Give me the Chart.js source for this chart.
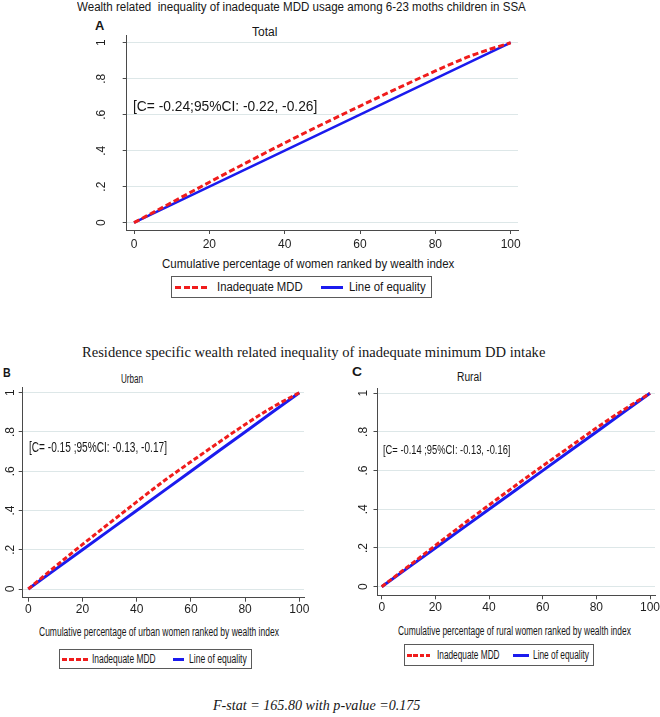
<!DOCTYPE html>
<html>
<head>
<meta charset="utf-8">
<script src="https://cdn.jsdelivr.net/npm/chart.js@4.4.1/dist/chart.umd.min.js"></script>
<style>
  body { margin: 0; background: #fff; }
  #wrap { position: relative; width: 660px; height: 717px; overflow: hidden; background: #fff; }
  canvas { position: absolute; }
  .t { position: absolute; white-space: pre; color: #161616; transform-origin: 0 50%; }
  .box { position: absolute; border: 1px solid #5a5a5a; box-sizing: border-box; }
  .smp { position: absolute; height: 3px; }
</style>
</head>
<body>
<div id="wrap"></div>
<script>
'use strict';

// concentration curves (cumulative share of inadequate MDD)
var pctWomen = [0, 10, 20, 30, 40, 50, 60, 70, 80, 90, 100];
var equalityLine = [0, 0.1, 0.2, 0.3, 0.4, 0.5, 0.6, 0.7, 0.8, 0.9, 1];
var totalMDD = [0, 0.112, 0.225, 0.335, 0.443, 0.547, 0.648, 0.747, 0.843, 0.932, 1];
var urbanMDD = [0, 0.115, 0.227, 0.336, 0.444, 0.55, 0.648, 0.744, 0.838, 0.925, 1];
var ruralMDD = [0, 0.106, 0.213, 0.319, 0.422, 0.524, 0.624, 0.722, 0.82, 0.913, 1];

var xTicks = [0, 20, 40, 60, 80, 100];
var yTicks = [0, 0.2, 0.4, 0.6, 0.8, 1];
var yTickLabels = ['0', '.2', '.4', '.6', '.8', '1'];
var seriesNames = ['Inadequate MDD', 'Line of equality'];

var wrap = document.getElementById('wrap');
var SANS = '"Liberation Sans", Arial, sans-serif';
var NARROW = '"Liberation Sans Narrow", "Liberation Sans", Arial, sans-serif';
var SERIF = '"Liberation Serif", "Times New Roman", serif';
var RED = '#f01c1c';
var BLUE = '#1b1bee';
var AXIS = '#4a4a4a';
var GRID = '#dde7e8';

var measureCtx = document.createElement('canvas').getContext('2d');

// text stretched between x0 and x1, centred on cy
function putText(txt, x0, x1, cy, size, family, extra) {
  var font = (extra || '') + ' ' + size + 'px ' + family;
  measureCtx.font = font;
  var w = measureCtx.measureText(txt).width;
  var el = document.createElement('div');
  el.className = 't';
  el.textContent = txt;
  el.style.font = font;
  el.style.lineHeight = size + 'px';
  el.style.left = x0 + 'px';
  el.style.top = (cy - size / 2) + 'px';
  el.style.transform = 'scaleX(' + ((x1 - x0) / w).toFixed(3) + ')';
  wrap.appendChild(el);
}

function legendBox(x0, x1, y0, y1) {
  var el = document.createElement('div');
  el.className = 'box';
  el.style.left = x0 + 'px';
  el.style.top = y0 + 'px';
  el.style.width = (x1 - x0) + 'px';
  el.style.height = (y1 - y0) + 'px';
  wrap.appendChild(el);
}

function sample(x0, x1, cy, color, dash) {
  var el = document.createElement('div');
  el.className = 'smp';
  el.style.left = x0 + 'px';
  el.style.width = (x1 - x0) + 'px';
  el.style.top = (cy - 1.5) + 'px';
  if (dash) {
    el.style.background = 'repeating-linear-gradient(to right,' + color + ' 0 ' + dash[0] + 'px, transparent ' +
      dash[0] + 'px ' + (dash[0] + dash[1]) + 'px)';
  } else {
    el.style.background = color;
  }
  wrap.appendChild(el);
}

// one Stata-style panel: p.area is the plot region in page pixels
function makePanel(p) {
  var left = Math.floor(p.area.l - 40);
  var top = Math.floor(p.area.t - 8);
  var right = Math.ceil(p.area.r + 10);
  var bottom = Math.ceil(p.area.b + 26);
  var canvas = document.createElement('canvas');
  canvas.width = right - left;
  canvas.height = bottom - top;
  canvas.style.left = left + 'px';
  canvas.style.top = top + 'px';
  wrap.appendChild(canvas);

  var yW = p.area.l - left;
  var xH = bottom - p.area.b;

  new Chart(canvas, {
    type: 'line',
    data: {
      datasets: [{
        label: seriesNames[0],
        data: pctWomen.map(function(x, i) { return {x: x, y: p.curve[i]}; }),
        borderColor: RED,
        borderWidth: p.lw,
        borderDash: p.dash,
        pointRadius: 0,
        cubicInterpolationMode: 'monotone',
        fill: false
      }, {
        label: seriesNames[1],
        data: pctWomen.map(function(x, i) { return {x: x, y: equalityLine[i]}; }),
        borderColor: BLUE,
        borderWidth: p.blw,
        pointRadius: 0,
        fill: false
      }]
    },
    options: {
      responsive: false,
      animation: false,
      events: [],
      layout: {padding: {left: 0, top: p.area.t - top, right: right - p.area.r, bottom: 0}},
      plugins: {legend: {display: false}, tooltip: {enabled: false}},
      scales: {
        x: {
          type: 'linear',
          min: p.xr[0],
          max: p.xr[1],
          afterBuildTicks: function(s) { s.ticks = xTicks.map(function(v) { return {value: v}; }); },
          afterFit: function(s) { s.height = xH; s.paddingLeft = 0; s.paddingRight = 0; },
          grid: {drawOnChartArea: false, drawTicks: true, tickLength: 4, tickColor: AXIS},
          border: {color: AXIS, width: 1},
          ticks: {color: '#1e1e1e', font: {family: p.font, size: 12}, padding: p.xPad, maxRotation: 0, autoSkip: false}
        },
        y: {
          type: 'linear',
          min: p.yr[0],
          max: p.yr[1],
          afterBuildTicks: function(s) { s.ticks = yTicks.map(function(v) { return {value: v}; }); },
          afterFit: function(s) { s.width = yW; s.paddingTop = 0; s.paddingBottom = 0; },
          grid: {color: GRID, lineWidth: 1, drawTicks: true, tickLength: 4, tickColor: AXIS},
          border: {color: AXIS, width: 1},
          ticks: {
            color: '#1e1e1e',
            font: {family: p.font, size: 12},
            callback: function(v, i) { return yTickLabels[i]; },
            minRotation: 90,
            maxRotation: 90,
            crossAlign: 'center',
            padding: p.yPad,
            autoSkip: false
          }
        }
      }
    }
  });
}

// ---- panel A
putText('Wealth related  inequality of inadequate MDD usage among 6-23 moths children in SSA', 77.3, 526, 7, 12, SANS);
putText('A', 94.7, 104, 25.7, 13, SANS, 'bold');
putText('Total', 252.3, 277.7, 32.3, 12, SANS);
makePanel({
  area: {l: 126.7, t: 35, r: 518, b: 230},
  xr: [-1.94, 101.94], yr: [-0.0406, 1.043],
  curve: totalMDD, lw: 3, dash: [6, 3], blw: 2.5,
  font: SANS, xPad: 3, yPad: 16
});
putText('[C= -0.24;95%CI: -0.22, -0.26]', 132.7, 317, 106, 14, SANS);
putText('Cumulative percentage of women ranked by wealth index', 161.7, 454, 264.3, 12, SANS);
legendBox(170.7, 432.3, 276, 297.7);
sample(175, 208.3, 287.3, RED, [6, 2.5]);
putText(seriesNames[0], 216.7, 302.3, 287.3, 12, SANS);
sample(321, 342.7, 287.3, BLUE);
putText(seriesNames[1], 349, 425.7, 287.3, 12, SANS);

// ---- middle title
putText('Residence specific wealth related inequality of inadequate minimum DD intake', 81.7, 545, 353.3, 14, SERIF);

// ---- panel B
putText('B', 3.3, 11, 372.3, 13, SANS, 'bold');
putText('Urban', 120.7, 142.7, 379.3, 12, SANS);
makePanel({
  area: {l: 22.7, t: 387, r: 304, b: 597.7},
  xr: [-2.07, 101.73], yr: [-0.0443, 1.029],
  curve: urbanMDD, lw: 3, dash: [5, 2.5], blw: 3,
  font: NARROW, xPad: 1.2, yPad: 2.7
});
putText('[C= -0.15 ;95%CI: -0.13, -0.17]', 29.3, 167.3, 447.3, 14, SANS);
putText('Cumulative percentage of urban women ranked by wealth index', 39.3, 279.3, 632.3, 12, SANS);
legendBox(59, 252.3, 649.3, 669);
sample(61.5, 88.3, 659.3, RED, [5, 2]);
putText(seriesNames[0], 91.7, 155.3, 659.3, 12, SANS);
sample(172.7, 184.3, 659.3, BLUE);
putText(seriesNames[1], 189, 246.7, 659.3, 12, SANS);

// ---- panel C
putText('C', 351.7, 361.7, 371, 13, SANS, 'bold');
putText('Rural', 457, 481.5, 376.7, 12, SANS);
makePanel({
  area: {l: 377.5, t: 388, r: 655, b: 595.3},
  xr: [-1.57, 101.86], yr: [-0.0445, 1.027],
  curve: ruralMDD, lw: 3, dash: [5, 2.5], blw: 3,
  font: NARROW, xPad: 1.5, yPad: 5
});
putText('[C= -0.14 ;95%CI: -0.13, -0.16]', 383.3, 510.7, 450, 12.5, SANS);
putText('Cumulative percentage of rural women ranked by wealth index', 398.3, 631, 631, 12, SANS);
legendBox(404, 594.3, 644.3, 666);
sample(407.3, 431.7, 655.2, RED, [4.5, 1.8]);
putText(seriesNames[0], 436.7, 499.3, 655.2, 12, SANS);
sample(512.7, 529.3, 655.2, BLUE);
putText(seriesNames[1], 533.3, 589.3, 655.2, 12, SANS);

// ---- footer
putText('F-stat = 165.80 with p-value =0.175', 213.3, 420.7, 705, 15, SERIF, 'italic');
</script>
</body>
</html>
